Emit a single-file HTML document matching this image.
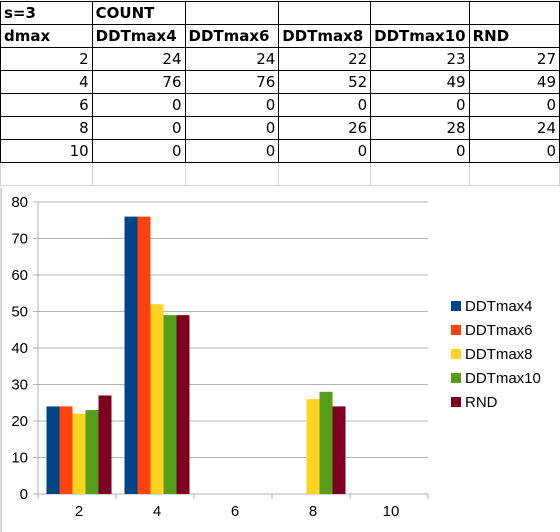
<!DOCTYPE html>
<html><head><meta charset="utf-8"><style>
body{margin:0;width:560px;height:532px;background:#fff;font-family:"Liberation Sans",Arial,sans-serif;overflow:hidden;position:relative}
table{position:absolute;left:0;top:1px;border-collapse:collapse;font-family:"DejaVu Sans","Liberation Sans",sans-serif;font-size:15px;table-layout:fixed}
td{height:23px;padding:0 3px;border:1px solid #000;box-sizing:border-box;white-space:nowrap;overflow:hidden}
td.n{text-align:right}
tr.h td{font-weight:bold}
tr.e td{border-color:#d4d4d4;border-top:1px solid #000}
svg text{font-family:"Liberation Sans",Arial,sans-serif}
</style></head><body>
<table>
<colgroup><col style="width:93px"><col style="width:93px"><col style="width:94px"><col style="width:92px"><col style="width:94px"><col style="width:92px"></colgroup>
<tr class="h"><td>s=3</td><td>COUNT</td><td></td><td></td><td></td><td></td></tr>
<tr class="h"><td>dmax</td><td>DDTmax4</td><td>DDTmax6</td><td>DDTmax8</td><td>DDTmax10</td><td>RND</td></tr>
<tr><td class="n">2</td><td class="n">24</td><td class="n">24</td><td class="n">22</td><td class="n">23</td><td class="n">27</td></tr>
<tr><td class="n">4</td><td class="n">76</td><td class="n">76</td><td class="n">52</td><td class="n">49</td><td class="n">49</td></tr>
<tr><td class="n">6</td><td class="n">0</td><td class="n">0</td><td class="n">0</td><td class="n">0</td><td class="n">0</td></tr>
<tr><td class="n">8</td><td class="n">0</td><td class="n">0</td><td class="n">26</td><td class="n">28</td><td class="n">24</td></tr>
<tr><td class="n">10</td><td class="n">0</td><td class="n">0</td><td class="n">0</td><td class="n">0</td><td class="n">0</td></tr>
<tr class="e"><td></td><td></td><td></td><td></td><td></td><td></td></tr>
</table>
<svg id="chart" width="560" height="532" style="position:absolute;left:0;top:0"></svg>
<script>
const categories=["2","4","6","8","10"];
const seriesNames=["DDTmax4","DDTmax6","DDTmax8","DDTmax10","RND"];
const seriesColors=["#004586","#ff420e","#ffd320","#579d1c","#7e0021"];
const s0=[24,76,0,0,0];
const s1=[24,76,0,0,0];
const s2=[22,52,0,26,0];
const s3=[23,49,0,28,0];
const s4=[27,49,0,24,0];
const yTicks=[0,10,20,30,40,50,60,70,80];
const series=[s0,s1,s2,s3,s4];
const svg=document.getElementById('chart');
const NS="http://www.w3.org/2000/svg";
const L=38,R=428,T=202,B=494,yMax=80;
const y=v=>B-(v/yMax)*(B-T);
const band=(R-L)/categories.length;
const bw=13;
function mk(t,a){const e=document.createElementNS(NS,t);for(const k in a)e.setAttribute(k,a[k]);svg.appendChild(e);return e;}
let fr=mk('line',{x1:1,y1:188,x2:1,y2:532,stroke:'#b0b0b0'});


yTicks.forEach(v=>{
 const g=mk('line',{x1:L-5,y1:y(v),x2:R,y2:y(v),stroke:'#b3b3b3'});
 
 
 const t=mk('text',{x:L-10,y:y(v)+5,'text-anchor':'end','font-size':15,fill:'#000'});
 t.textContent=v;
 
 
});
let ax=mk('line',{x1:L,y1:T,x2:L,y2:B+5,stroke:'#b3b3b3'});


for(let i=0;i<=categories.length;i++){const tk=mk('line',{x1:L+i*band,y1:B,x2:L+i*band,y2:B+5,stroke:'#b3b3b3'});
 
 }
categories.forEach((c,i)=>{
 const cx=L+band*(i+0.5)+2;
 series.forEach((s,j)=>{
  const v=s[i]; if(!v) return;
  const r=mk('rect',{x:cx-bw*2.5+j*bw,y:y(v),width:bw,height:B-y(v),fill:seriesColors[j]});
  
  
 });
 const t=mk('text',{x:cx,y:B+22,'text-anchor':'middle','font-size':15});
 t.textContent=c;
 
 
});
seriesNames.forEach((n,j)=>{
 const yy=306+j*24;
 const r=mk('rect',{x:451,y:yy-5,width:10,height:10,fill:seriesColors[j]});
 
 
 const t=mk('text',{x:465,y:yy+5,'font-size':15});
 t.textContent=n;
 
 
});
</script>
</body></html>
